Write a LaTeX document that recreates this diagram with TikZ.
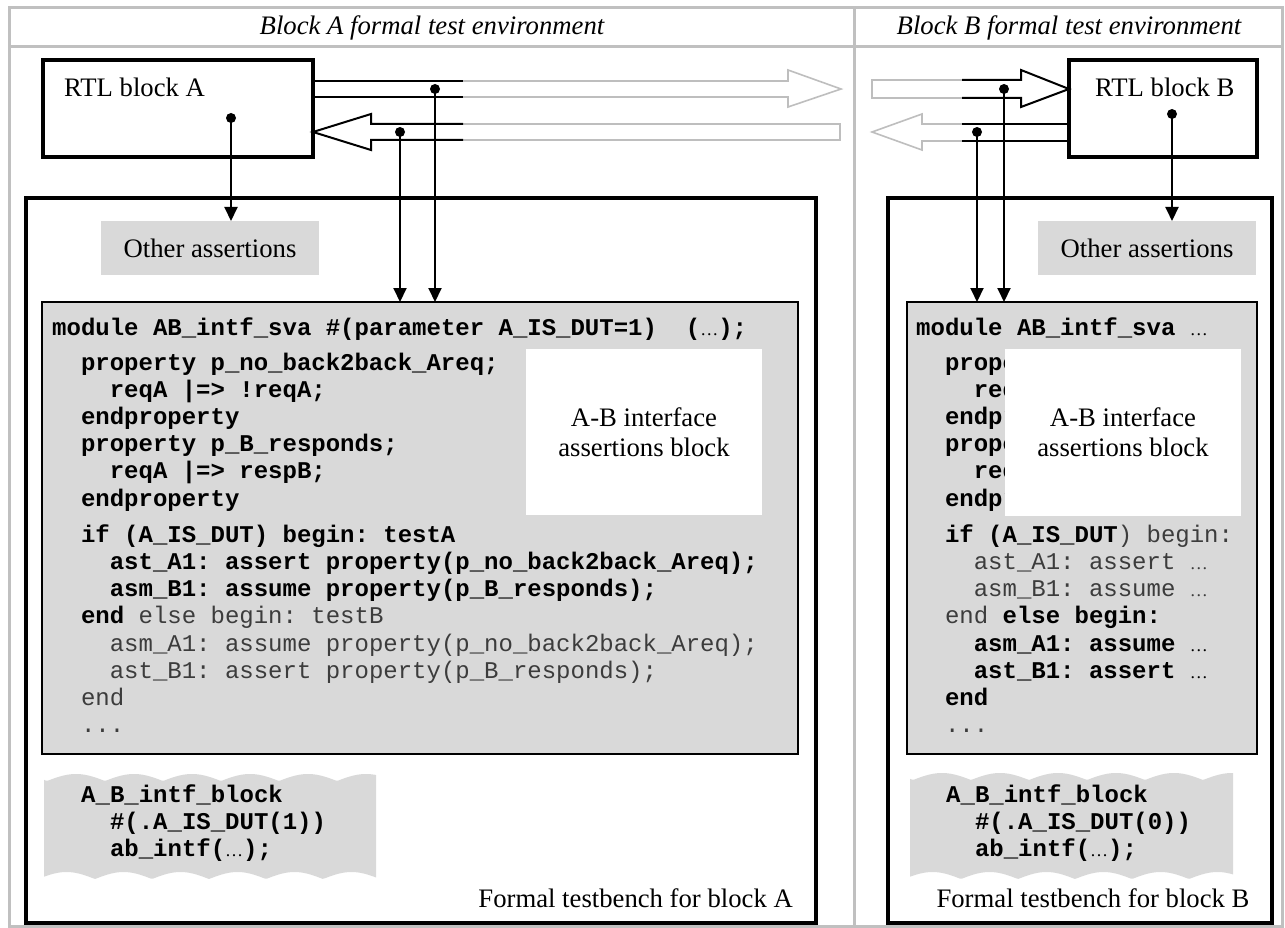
\documentclass[tikz,border=0pt]{standalone}
\usepackage{fontspec}
\setmainfont{Liberation Serif}
\setmonofont{Liberation Mono}
\usetikzlibrary{arrows.meta}
\definecolor{codegray}{RGB}{217,217,217}
\definecolor{framegray}{RGB}{192,192,192}
\definecolor{ghost}{RGB}{190,190,190}
\definecolor{thintext}{RGB}{60,60,60}
\newcommand\ellip{{\rmfamily\mdseries\fontsize{18}{18}\selectfont …}}
\newcommand\sfont{\rmfamily\fontsize{26.7}{30}\selectfont}
\newcommand\cfont{\ttfamily\fontsize{24}{27}\selectfont}
\newcommand\thinpart[1]{{\mdseries\color{thintext}#1}}
\begin{document}
\begin{tikzpicture}[x=1pt,y=-1pt,
  sqbox/.style={draw, anchor=north west, inner sep=0pt, outer sep=0pt},
  fillbox/.style={anchor=north west, inner sep=0pt, outer sep=0pt, font=\sfont},
  codeline/.style={anchor=base west, inner sep=0pt, font=\cfont\bfseries},
  lbl/.style={inner sep=0pt, font=\sfont},
  conn/.style={line width=2pt, -{Triangle[width=13pt,length=14pt]}},
  wire/.style={line width=2pt},
  hollowblack/.style={line width=2pt, line join=miter},
  hollowgray/.style={line width=1.6pt, draw=ghost},
  framel/.style={draw=framegray, line width=3pt}]

\useasboundingbox (0,0) rectangle (1285,928);
\fill[white] (0,0) rectangle (1285,928);

% outer frame
\draw[framel] (9,8) rectangle (1282,926);
\draw[framel] (9,47) -- (1282,47);
\draw[framel] (854,8) -- (854,926);
\node[lbl, anchor=base, font=\sfont\itshape] (hdrA) at (432,35) {Block A formal test environment};
\node[lbl, anchor=base, font=\sfont\itshape] (hdrB) at (1069,35) {Block B formal test environment};

% testbenches
\node[sqbox, line width=3.5pt, minimum width=790pt, minimum height=725pt] (tbA) at (26,198) {};
\node[sqbox, line width=3.5pt, minimum width=384pt, minimum height=725pt] (tbB) at (888,198) {};
\node[lbl, anchor=base east] (tbAl) at (793,907) {Formal testbench for block A};
\node[lbl, anchor=base] (tbBl) at (1093,907) {Formal testbench for block B};

% other assertions
\node[fillbox, fill=codegray, minimum width=218pt, minimum height=54pt] (othA) at (101,221) {Other assertions};
\node[fillbox, fill=codegray, minimum width=218pt, minimum height=54pt] (othB) at (1038,221) {Other assertions};

% code boxes
\node[sqbox, fill=codegray, line width=2.5pt, minimum width=756pt, minimum height=452pt] (codeA) at (42,302) {};
\node[sqbox, fill=codegray, line width=2.5pt, minimum width=350pt, minimum height=452pt] (codeB) at (907,302) {};

% code A
\node[codeline] (a1) at (52,335) {module AB\_intf\_sva \#(parameter A\_IS\_DUT=1)\ \ (\ellip);};
\node[codeline] (a2) at (80.8,370) {property p\_no\_back2back\_Areq;};
\node[codeline] (a3) at (109.6,397) {reqA |=> !reqA;};
\node[codeline] (a4) at (80.8,424) {endproperty};
\node[codeline] (a5) at (80.8,451) {property p\_B\_responds;};
\node[codeline] (a6) at (109.6,478) {reqA |=> respB;};
\node[codeline] (a7) at (80.8,506) {endproperty};
\node[codeline] (a8) at (80.8,542) {if (A\_IS\_DUT) begin: testA};
\node[codeline] (a9) at (109.6,569) {ast\_A1: assert property(p\_no\_back2back\_Areq);};
\node[codeline] (a10) at (109.6,596) {asm\_B1: assume property(p\_B\_responds);};
\node[codeline] (a11) at (80.8,623) {end\thinpart{\ else begin: testB}};
\node[codeline] (a12) at (109.6,651) {\thinpart{asm\_A1: assume property(p\_no\_back2back\_Areq);}};
\node[codeline] (a13) at (109.6,678) {\thinpart{ast\_B1: assert property(p\_B\_responds);}};
\node[codeline] (a14) at (80.8,705) {\thinpart{end}};
\node[codeline] (a15) at (80.8,732) {\thinpart{...}};

% code B (lines partly hidden behind the interface block)
\node[codeline] (b1) at (916,335) {module AB\_intf\_sva \ellip};
\node[codeline] (b2) at (944.8,370) {prope};
\node[codeline] (b3) at (973.6,397) {req};
\node[codeline] (b4) at (944.8,424) {endpr};
\node[codeline] (b5) at (944.8,451) {prope};
\node[codeline] (b6) at (973.6,478) {req};
\node[codeline] (b7) at (944.8,506) {endpr};
\node[codeline] (b8) at (944.8,542) {if (A\_IS\_DUT\thinpart{) begin:}};
\node[codeline] (b9) at (973.6,569) {\thinpart{ast\_A1: assert \ellip}};
\node[codeline] (b10) at (973.6,596) {\thinpart{asm\_B1: assume \ellip}};
\node[codeline] (b11) at (944.8,623) {\thinpart{end}\ else begin:};
\node[codeline] (b12) at (973.6,651) {asm\_A1: assume \ellip};
\node[codeline] (b13) at (973.6,678) {ast\_B1: assert \ellip};
\node[codeline] (b14) at (944.8,705) {end};
\node[codeline] (b15) at (944.8,732) {\thinpart{...}};

% interface blocks
\node[fillbox, fill=white, align=center, minimum width=236pt, minimum height=166pt] (intA) at (526,349) {A-B interface\\assertions block};
\node[fillbox, fill=white, align=center, minimum width=236pt, minimum height=167pt] (intB) at (1005,349) {A-B interface\\assertions block};

% wavy instantiation blocks
\fill[codegray] plot[domain=44:376,samples=150] (\x,{781-7*abs(sin((\x-47)/58*180))})
  -- plot[domain=376:44,samples=150] (\x,{879-7*abs(sin((\x-38)/57*180))}) -- cycle;
\fill[codegray] plot[domain=910:1233,samples=150] (\x,{780-7*abs(sin((\x-913)/58*180))})
  -- plot[domain=1233:910,samples=150] (\x,{879-7*abs(sin((\x-904)/57*180))}) -- cycle;
\node[codeline] (wA1) at (81,802) {A\_B\_intf\_block};
\node[codeline] (wA2) at (109.8,829) {\#(.A\_IS\_DUT(1))};
\node[codeline] (wA3) at (109.8,856) {ab\_intf(\ellip);};
\node[codeline] (wB1) at (946,802) {A\_B\_intf\_block};
\node[codeline] (wB2) at (974.8,829) {\#(.A\_IS\_DUT(0))};
\node[codeline] (wB3) at (974.8,856) {ab\_intf(\ellip);};

% RTL blocks
\node[sqbox, line width=3.3pt, minimum width=270pt, minimum height=97pt] (rtlA) at (43,60) {};
\node[lbl, anchor=base west] (rtlAl) at (64,97) {RTL block A};
\node[sqbox, line width=3.3pt, minimum width=188pt, minimum height=97pt] (rtlB) at (1069,60) {};
\node[lbl, anchor=base west] (rtlBl) at (1095,97) {RTL block B};

% A -> B bus (A side)
\draw[hollowgray] (463,81) -- (788,81) -- (788,70) -- (841,89) -- (788,107) -- (788,97) -- (463,97);
\draw[wire] (313,81) -- (463,81);
\draw[wire] (313,97) -- (463,97);
% B -> A bus (A side)
\draw[hollowgray] (463,124) -- (840,124) -- (840,140) -- (463,140);
\draw[hollowblack] (463,124) -- (371,124) -- (371,114) -- (313,132) -- (371,150) -- (371,140) -- (463,140);
% A -> B bus (B side)
\draw[hollowgray] (962,80) -- (872,80) -- (872,98) -- (962,98);
\draw[hollowblack] (962,80) -- (1021,80) -- (1021,70) -- (1069,89) -- (1021,107) -- (1021,98) -- (962,98);
% B -> A bus (B side)
\draw[hollowgray] (962,124) -- (922,124) -- (922,114) -- (872,132) -- (922,150) -- (922,141) -- (962,141);
\draw[wire] (1069,124) -- (962,124);
\draw[wire] (1069,141) -- (962,141);

% taps
\coordinate (dA0) at (231,118);
\coordinate (dA1) at (435,89);
\coordinate (dA2) at (400,132);
\coordinate (dB0) at (1172,114);
\coordinate (dB1) at (1004,89);
\coordinate (dB2) at (977,132);
\draw[conn] (dA0) -- (dA0 |- othA.north);
\draw[conn] (dA1) -- (dA1 |- codeA.north);
\draw[conn] (dA2) -- (dA2 |- codeA.north);
\draw[conn] (dB0) -- (dB0 |- othB.north);
\draw[conn] (dB1) -- (dB1 |- codeB.north);
\draw[conn] (dB2) -- (dB2 |- codeB.north);
\foreach \d in {dA0,dA1,dA2,dB0,dB1,dB2} \fill (\d) circle[radius=5pt];
\end{tikzpicture}
\end{document}
